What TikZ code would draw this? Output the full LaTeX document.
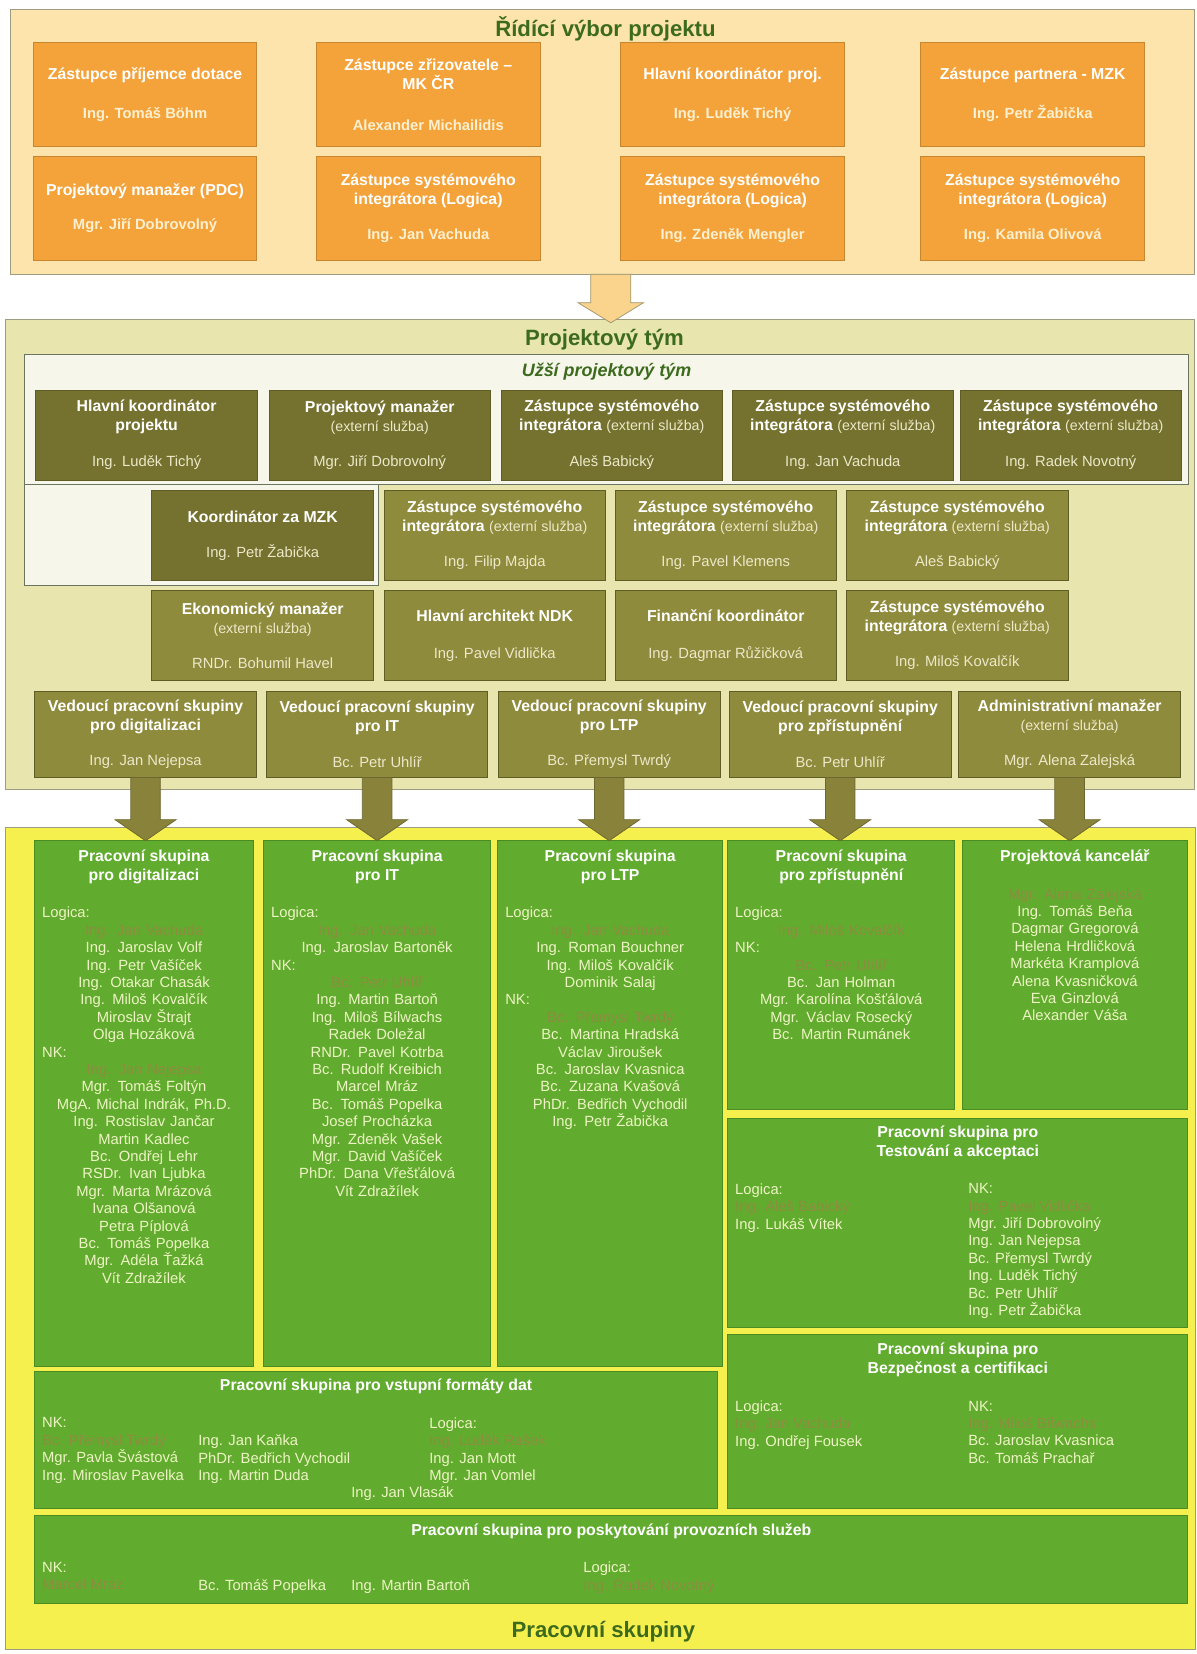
\documentclass[tikz,border=0pt]{standalone}
\usepackage{fontspec}
\setmainfont{Liberation Sans}
\usetikzlibrary{calc}
\definecolor{topbgc}{HTML}{FCE4AC}
\definecolor{orangebox}{HTML}{F4A33A}
\definecolor{orangeedge}{HTML}{C8862E}
\definecolor{topname}{HTML}{FDF0D0}
\definecolor{midbgc}{HTML}{E8E5AE}
\definecolor{innerc}{HTML}{F6F6EA}
\definecolor{inneredge}{HTML}{6A7560}
\definecolor{olivedark}{HTML}{75712F}
\definecolor{olivelight}{HTML}{8F8B3D}
\definecolor{oliveedge}{HTML}{5F5C26}
\definecolor{olivetext}{HTML}{ECE8C8}
\definecolor{arrowc}{HTML}{88823A}
\definecolor{arrowedge}{HTML}{6C6630}
\definecolor{yellowbg}{HTML}{F6F04E}
\definecolor{greenbox}{HTML}{61AC2E}
\definecolor{greenedge}{HTML}{4A8C22}
\definecolor{greentext}{HTML}{EEF4C4}
\definecolor{hlcol}{HTML}{8E8C40}
\definecolor{titlegreen}{HTML}{3D6B1E}
\definecolor{framec}{HTML}{9C9C80}
\definecolor{toparrowc}{HTML}{FAD38C}
\definecolor{toparrowedge}{HTML}{A09870}
\newcommand{\tnm}[1]{{\fontsize{14}{18}\selectfont\color{topname}#1}}
\newcommand{\mnm}[1]{{\mdseries\fontsize{14}{18}\selectfont\color{olivetext}#1}}
\newcommand{\msub}[1]{{\mdseries\fontsize{13.5}{18}\selectfont\color{olivetext}#1}}
\newcommand{\hln}[1]{\textcolor{hlcol}{#1}}
\newcommand{\lftline}[1]{\makebox[\linewidth][l]{#1}}
\newcommand{\blockarr}[6]{%
  \path[#6] ($(#1)+(-#3,0)$) -- ($(#1)+(#3,0)$)
    -- ($(#1 |- #2)+(#3,-#5)$) -- ($(#1 |- #2)+(#4,-#5)$)
    -- (#1 |- #2)
    -- ($(#1 |- #2)+(-#4,-#5)$) -- ($(#1 |- #2)+(-#3,-#5)$) -- cycle;}
\begin{document}
\begin{tikzpicture}[x=1pt,y=-1pt,
  every node/.style={inner sep=0pt,outer sep=0pt},
  sectbox/.style={draw=framec,line width=0.8pt,anchor=north west},
  ttl/.style={font=\bfseries\fontsize{21}{24}\selectfont,text=titlegreen},
  tbox/.style={draw=orangeedge,fill=orangebox,line width=0.8pt,minimum width=212,minimum height=98,
    align=center,text=white,font=\bfseries\fontsize{15}{18}\selectfont},
  mbox/.style={draw=oliveedge,line width=0.8pt,minimum width=210,minimum height=85,
    align=center,text=white,font=\bfseries\fontsize{15}{18}\selectfont},
  dk/.style={mbox,fill=olivedark},
  lt/.style={mbox,fill=olivelight},
  innerbox/.style={draw=inneredge,fill=innerc,line width=0.9pt,anchor=north west},
  gbox/.style={draw=greenedge,fill=greenbox,line width=0.8pt},
  ghead/.style={font=\bfseries\fontsize{15}{18}\selectfont,text=white,align=center},
  glist/.style={font=\fontsize{14}{16.5}\selectfont,text=greentext,align=center,anchor=north},
  glistl/.style={font=\fontsize{14}{16.5}\selectfont,text=greentext,align=left,anchor=north west},
  barrow/.style={fill=arrowc,draw=arrowedge,line width=0.7pt},
  tarrow/.style={fill=toparrowc,draw=toparrowedge,line width=0.7pt}]
\useasboundingbox (0,0) rectangle (1134,1568);
\fill[white] (0,0) rectangle (1134,1568);

% ---------------- Top: steering committee
\node[sectbox,fill=topbgc,minimum width=1122,minimum height=251] (topbg) at (10,9) {};
\node[ttl] (toptitle) at (574,27) {Řídící výbor projektu};
\node[tbox] (t11) at (137.5,89.5) {Zástupce příjemce dotace\\[19pt]\tnm{Ing. Tomáš Böhm}};
\node[tbox] (t12) at (406,89.5) {Zástupce zřizovatele –\\MK ČR\\[21pt]\tnm{Alexander Michailidis}};
\node[tbox] (t13) at (694.5,89.5) {Hlavní koordinátor proj.\\[19pt]\tnm{Ing. Luděk Tichý}};
\node[tbox] (t14) at (979,89.5) {Zástupce partnera - MZK\\[19pt]\tnm{Ing. Petr Žabička}};
\node[tbox] (t21) at (137.5,197.5) {Projektový manažer (PDC)\\[14pt]\tnm{Mgr. Jiří Dobrovolný}};
\node[tbox] (t22) at (406,197.5) {Zástupce systémového\\integrátora (Logica)\\[16pt]\tnm{Ing. Jan Vachuda}};
\node[tbox] (t23) at (694.5,197.5) {Zástupce systémového\\integrátora (Logica)\\[16pt]\tnm{Ing. Zdeněk Mengler}};
\node[tbox] (t24) at (979,197.5) {Zástupce systémového\\integrátora (Logica)\\[16pt]\tnm{Ing. Kamila Olivová}};

% ---------------- Middle: project team
\node[sectbox,fill=midbgc,minimum width=1127,minimum height=445] (midbg) at (5,303) {};
\coordinate (ta) at (579,260);
\coordinate (tb) at (579,306);
\blockarr{ta}{tb}{19}{31}{19}{tarrow}
\node[ttl] (midtitle) at (573,322) {Projektový tým};
\node[innerbox,minimum width=1104,minimum height=123] (inner1) at (23,336) {};
\node[innerbox,minimum width=336,minimum height=96] (inner2) at (23,459) {};
\node[font=\bfseries\itshape\fontsize{17}{20}\selectfont,text=titlegreen] (innertitle) at (575,352) {Užší projektový tým};

\node[dk] (r11) at (139,412.5) {Hlavní koordinátor\\projektu\\[16pt]\mnm{Ing. Luděk Tichý}};
\node[dk] (r12) at (360,412.5) {Projektový manažer\\\msub{(externí služba)}\\[16pt]\mnm{Mgr. Jiří Dobrovolný}};
\node[dk] (r13) at (580,412.5) {Zástupce systémového\\integrátora \msub{(externí služba)}\\[16pt]\mnm{Aleš Babický}};
\node[dk] (r14) at (799,412.5) {Zástupce systémového\\integrátora \msub{(externí služba)}\\[16pt]\mnm{Ing. Jan Vachuda}};
\node[dk] (r15) at (1015,412.5) {Zástupce systémového\\integrátora \msub{(externí služba)}\\[16pt]\mnm{Ing. Radek Novotný}};

\node[dk] (r21) at (249,507.5) {Koordinátor za MZK\\[15pt]\mnm{Ing. Petr Žabička}};
\node[lt] (r22) at (469,507.5) {Zástupce systémového\\integrátora \msub{(externí služba)}\\[15pt]\mnm{Ing. Filip Majda}};
\node[lt] (r23) at (688,507.5) {Zástupce systémového\\integrátora \msub{(externí služba)}\\[15pt]\mnm{Ing. Pavel Klemens}};
\node[lt] (r24) at (907.5,507.5) {Zástupce systémového\\integrátora \msub{(externí služba)}\\[15pt]\mnm{Aleš Babický}};

\node[lt] (r31) at (249,602.5) {Ekonomický manažer\\\msub{(externí služba)}\\[15pt]\mnm{RNDr. Bohumil Havel}};
\node[lt] (r32) at (469,602.5) {Hlavní architekt NDK\\[17pt]\mnm{Ing. Pavel Vidlička}};
\node[lt] (r33) at (688,602.5) {Finanční koordinátor\\[17pt]\mnm{Ing. Dagmar Růžičková}};
\node[lt] (r34) at (907.5,602.5) {Zástupce systémového\\integrátora \msub{(externí služba)}\\[15pt]\mnm{Ing. Miloš Kovalčík}};

\node[lt,minimum height=82] (r41) at (138,696) {Vedoucí pracovní skupiny\\pro digitalizaci\\[16pt]\mnm{Ing. Jan Nejepsa}};
\node[lt,minimum height=82] (r42) at (357.5,696) {Vedoucí pracovní skupiny\\pro IT\\[16pt]\mnm{Bc. Petr Uhlíř}};
\node[lt,minimum height=82] (r43) at (577.5,696) {Vedoucí pracovní skupiny\\pro LTP\\[16pt]\mnm{Bc. Přemysl Twrdý}};
\node[lt,minimum height=82] (r44) at (796.5,696) {Vedoucí pracovní skupiny\\pro zpřístupnění\\[16pt]\mnm{Bc. Petr Uhlíř}};
\node[lt,minimum height=82] (r45) at (1014,696) {Administrativní manažer\\\msub{(externí služba)}\\[16pt]\mnm{Mgr. Alena Zalejská}};

% ---------------- Bottom: working groups
\node[sectbox,fill=yellowbg,minimum width=1128,minimum height=780] (ybg) at (5,784) {};
\node[gbox,minimum width=207,minimum height=498] (g1) at (136.5,1046) {};
\node[gbox,minimum width=215,minimum height=498] (g2) at (357.5,1046) {};
\node[gbox,minimum width=213,minimum height=498] (g3) at (578.5,1046) {};
\node[gbox,minimum width=215,minimum height=255] (g4) at (797.5,924.5) {};
\node[gbox,minimum width=214,minimum height=255] (g5) at (1019,924.5) {};
\node[gbox,minimum width=436,minimum height=198] (g6) at (908,1159) {};
\node[gbox,minimum width=436,minimum height=165] (g7) at (908,1347.5) {};
\node[gbox,minimum width=647,minimum height=130] (g8) at (356.5,1365) {};
\node[gbox,minimum width=1093,minimum height=83] (g9) at (579.5,1478.5) {};

\blockarr{r41.south}{g1.north}{14}{29}{20}{barrow}
\blockarr{r42.south}{g2.north}{14}{29}{20}{barrow}
\blockarr{r43.south}{g3.north}{14}{29}{20}{barrow}
\blockarr{r44.south}{g4.north}{14}{29}{20}{barrow}
\blockarr{r45.south}{g5.north}{14}{29}{20}{barrow}

\node[ghead] (h1) at (136.5,821.5) {Pracovní skupina\\pro digitalizaci};
\node[ghead] (h2) at (357.5,821.5) {Pracovní skupina\\pro IT};
\node[ghead] (h3) at (578.5,821.5) {Pracovní skupina\\pro LTP};
\node[ghead] (h4) at (797.5,821.5) {Pracovní skupina\\pro zpřístupnění};
\node[ghead] (h5) at (1019,813) {Projektová kancelář};
\node[ghead] (h6) at (908,1083.5) {Pracovní skupina pro\\Testování a akceptaci};
\node[ghead] (h7) at (908,1289.5) {Pracovní skupina pro\\Bezpečnost a certifikaci};
\node[ghead] (h8) at (356.5,1314) {Pracovní skupina pro vstupní formáty dat};
\node[ghead] (h9) at (579.5,1452) {Pracovní skupina pro poskytování provozních služeb};

\node[glist,text width=193] (l1) at (136.5,860) {\lftline{Logica:}\\\hln{Ing. Jan Vachuda}\\Ing. Jaroslav Volf\\Ing. Petr Vašíček\\Ing. Otakar Chasák\\Ing. Miloš Kovalčík\\Miroslav Štrajt\\Olga Hozáková\\\lftline{NK:}\\\hln{Ing. Jan Nejepsa}\\Mgr. Tomáš Foltýn\\MgA. Michal Indrák, Ph.D.\\Ing. Rostislav Jančar\\Martin Kadlec\\Bc. Ondřej Lehr\\RSDr. Ivan Ljubka\\Mgr. Marta Mrázová\\Ivana Olšanová\\Petra Píplová\\Bc. Tomáš Popelka\\Mgr. Adéla Ťažká\\Vít Zdražílek};
\node[glist,text width=201] (l2) at (357.5,860) {\lftline{Logica:}\\\hln{Ing. Jan Vachuda}\\Ing. Jaroslav Bartoněk\\\lftline{NK:}\\\hln{Bc. Petr Uhlíř}\\Ing. Martin Bartoň\\Ing. Miloš Bílwachs\\Radek Doležal\\RNDr. Pavel Kotrba\\Bc. Rudolf Kreibich\\Marcel Mráz\\Bc. Tomáš Popelka\\Josef Procházka\\Mgr. Zdeněk Vašek\\Mgr. David Vašíček\\PhDr. Dana Vřešťálová\\Vít Zdražílek};
\node[glist,text width=199] (l3) at (578.5,860) {\lftline{Logica:}\\\hln{Ing. Jan Vachuda}\\Ing. Roman Bouchner\\Ing. Miloš Kovalčík\\Dominik Salaj\\\lftline{NK:}\\\hln{Bc. Přemysl Twrdý}\\Bc. Martina Hradská\\Václav Jiroušek\\Bc. Jaroslav Kvasnica\\Bc. Zuzana Kvašová\\PhDr. Bedřich Vychodil\\Ing. Petr Žabička};
\node[glist,text width=201] (l4) at (797.5,860) {\lftline{Logica:}\\\hln{Ing. Miloš Kovalčík}\\\lftline{NK:}\\\hln{Bc. Petr Uhlíř}\\Bc. Jan Holman\\Mgr. Karolína Košťálová\\Mgr. Václav Rosecký\\Bc. Martin Rumánek};
\node[glist,text width=200] (l5) at (1019,842) {\hln{Mgr. Alena Zalejská}\\Ing. Tomáš Beňa\\Dagmar Gregorová\\Helena Hrdličková\\Markéta Kramplová\\Alena Kvasničková\\Eva Ginzlová\\Alexander Váša};

\node[glistl] (l6a) at (697,1122) {Logica:\\\hln{Ing. Aleš Babický}\\Ing. Lukáš Vítek};
\node[glistl] (l6b) at (918,1122) {NK:\\\hln{Ing. Pavel Vidlička}\\Mgr. Jiří Dobrovolný\\Ing. Jan Nejepsa\\Bc. Přemysl Twrdý\\Ing. Luděk Tichý\\Bc. Petr Uhlíř\\Ing. Petr Žabička};
\node[glistl] (l7a) at (697,1328) {Logica:\\\hln{Ing. Jan Vachuda}\\Ing. Ondřej Fousek};
\node[glistl] (l7b) at (918,1328) {NK:\\\hln{Ing. Miloš Bílwachs}\\Bc. Jaroslav Kvasnica\\Bc. Tomáš Prachař};

\node[glistl] (l8a) at (40,1344) {NK:\\\hln{Bc. Přemysl Twrdý}\\Mgr. Pavla Švástová\\Ing. Miroslav Pavelka};
\node[glistl] (l8b) at (188,1360.5) {Ing. Jan Kaňka\\PhDr. Bedřich Vychodil\\Ing. Martin Duda};
\node[glistl] (l8c) at (407,1344) {Logica:\\\hln{Ing. Luděk Rašek}\\Ing. Jan Mott\\Mgr. Jan Vomlel};
\node[glistl] (l8d) at (333,1409.5) {Ing. Jan Vlasák};

\node[glistl] (l9a) at (40,1481) {NK:\\\hln{Marcel Mráz}};
\node[glistl] (l9b) at (188,1497.5) {Bc. Tomáš Popelka};
\node[glistl] (l9c) at (333,1497.5) {Ing. Martin Bartoň};
\node[glistl] (l9d) at (553,1481) {Logica:\\\hln{Ing. Radek Novotný}};

\node[ttl] (bottitle) at (572,1547) {Pracovní skupiny};
\end{tikzpicture}
\end{document}
